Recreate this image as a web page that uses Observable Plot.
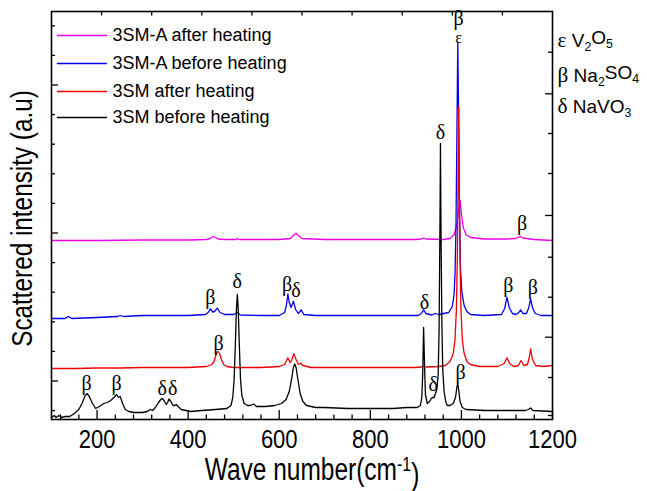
<!DOCTYPE html>
<html><head><meta charset="utf-8">
<script src="https://cdn.jsdelivr.net/npm/d3@7"></script>
<script src="https://cdn.jsdelivr.net/npm/@observablehq/plot@0.6"></script>
<style>
body{margin:0;background:#fff;}
#chart svg{background:#fff;}
</style></head><body><div id="chart"></div>
<script>
// ---- data (wavenumber cm^-1, scattered intensity a.u.) ----
const seriesNames = ["3SM-A after heating", "3SM-A before heating", "3SM after heating", "3SM before heating"];
const seriesColors = ["#ee00ee", "#0000ee", "#ee0000", "#000000"];

const smaAfter = [[100,179],[150,179],[200,179],[300,179.5],[400,179.5],[440,180],[448,181],[455,183],[460,182],[466,180.5],[480,180],[505,180],[508,181],[512,180],[530,180],[600,180],[625,181],[631,184],[637,186.3],[642,184],[650,181],[700,180],[800,180],[900,180],[912,180.5],[917,181.5],[922,180.5],[960,180],[975,181],[984,185],[989,193],[993,205],[997,219],[1000,206],[1004,192],[1010,185],[1020,182],[1050,180.5],[1100,180.5],[1120,181],[1126,182.5],[1130,183],[1135,181.5],[1160,180],[1200,179]];

const smaBefore = [[100,101],[130,101],[137,103],[145,101],[200,102],[245,103],[251,104],[258,103],[300,104],[400,104],[438,105],[444,107],[449,110.7],[454,107.5],[458,108],[464,111.3],[470,107],[480,105],[500,105],[508,107],[515,104.5],[560,104],[600,104],[612,107],[616,115],[619,125.7],[622,117],[626,112],[631,118.3],[636,110],[642,106],[648,109.7],[654,105],[680,104],[750,104],[850,104],[905,104],[912,106],[917,109.7],[922,106],[935,104.5],[943,106],[950,105],[972,107],[980,113],[984,125],[986,146],[988,190],[990,280],[992,377],[994,300],[996,200],[998,150],[1001,128],[1006,114],[1012,108],[1020,105],[1050,104],[1088,105],[1095,111],[1100,122.3],[1105,112],[1112,106],[1120,105],[1126,107],[1130,109.7],[1135,106],[1143,106],[1148,112],[1152,120.7],[1156,112],[1162,106],[1175,104],[1200,104]];

const smAfter = [[100,51],[150,51],[200,51.5],[250,51.5],[300,52],[350,52],[400,52],[440,53],[452,55],[457,58],[460,63],[463,67],[466,68],[469,66],[473,60],[478,55],[485,53],[500,52],[560,52],[600,53],[612,55],[619,61.7],[624,57],[628,60],[632,65.7],[637,60],[642,55],[647,56.3],[652,54],[670,52],[700,52],[800,52],[900,52],[912,52.5],[917,53.5],[922,52.5],[950,53],[965,54],[975,58],[982,66],[986,80],[989,110],[991,160],[993,250],[994,313],[995,250],[997,160],[999,110],[1002,80],[1006,66],[1012,58],[1020,55],[1040,53],[1080,53],[1094,56],[1100,61.7],[1106,56],[1115,53],[1125,54],[1131,59],[1137,54],[1145,55],[1149,62],[1152,70.7],[1156,60],[1163,54],[1180,53],[1200,54]];

const smBefore = [[100,2],[106,4],[110,2],[116,4],[122,2],[130,3],[140,3],[150,6],[160,10],[168,17],[174,24],[178,26],[183,23],[190,16],[197,11],[205,13],[215,16],[222,17],[230,19],[237,22],[243,25],[247,22],[251,23],[256,16],[262,10],[270,8],[280,7],[290,7],[300,7],[310,8],[317,10],[322,9],[328,12],[335,17],[340,20],[343,21],[347,19],[352,15],[355,17],[358,20.5],[362,18],[367,14],[371,14],[374,15],[378,13],[385,10],[395,9],[405,8],[430,9],[460,10],[485,11],[494,14],[498,22],[501,40],[504,80],[506,110],[508,125],[510,110],[512,80],[515,40],[518,24],[523,16],[530,14],[537,14],[544,15.5],[550,13],[570,13],[590,14],[605,16],[615,20],[622,28],[627,40],[631,52],[634,55.5],[637,52],[641,40],[646,26],[652,18],[660,14],[680,12],[700,12],[750,11],[800,11],[850,11],[880,12],[903,12],[910,14],[913,22],[915,45],[917,92],[919,55],[921,25],[925,16],[930,18],[934,21],[937,22],[940,22],[943,26],[946,30],[949,45],[951,90],[953,200],[954,276],[955,200],[957,100],[959,50],[962,28],[966,17],[969,14],[975,14],[982,16],[987,22],[990,32],[992,36],[994,30],[997,18],[1002,12],[1010,10],[1050,9],[1100,9],[1140,9],[1147,10],[1152,11.5],[1157,9],[1200,8]];

const allSeries = [smaAfter, smaBefore, smAfter, smBefore];

// peak assignments: [wavenumber, intensity, symbol]
const peakLabels = [[177,36,"β"],[243,36,"β"],[343,31,"δ"],[366,31,"δ"],[508,138,"δ"],[467,76,"β"],[449,122,"β"],[617,135,"β"],[637,129,"δ"],[919,117,"δ"],[938,35,"δ"],[998,47,"β"],[1103,134,"β"],[1157,132,"β"],[1133,196,"β"],[954,287,"δ"],[994,401,"β"]];
const smallPeakLabels = [[994,382,"ε"]];

const phaseLabels = ["ε V_2O_5", "β Na_2SO_4", "δ NaVO_3"];
const phaseY = [379, 344, 313];

// axes ticks
const xTickLabels = [200, 400, 600, 800, 1000, 1200];
const xMinorTicks = [120,160,240,280,320,360,440,480,520,560,640,680,720,760,840,880,920,960,1040,1080,1120,1160];
const xTopTicks = [210, 320, 430, 540, 650, 760, 870, 980, 1090];
const yLeftTicks = [8.9, 38.5, 68.1, 97.7, 127.3, 156.9, 186.5, 216.1, 245.7, 275.3, 304.9, 334.5, 364.1, 393.7];
const yLeftMajor = [38.5, 186.5, 334.5];
const yRightTicks = [4, 42, 82.3, 122.3, 162.3, 204, 246, 286, 325.7, 367.3];
const yRightMajor = [82.3, 204, 325.7];

const legendY = [384, 356, 328, 302];

// ---- chart ----
const SANS = "'Liberation Sans', Arial, sans-serif";
const SERIF = "'Liberation Serif', 'Times New Roman', serif";
const xPerPx = 1100 / 501;

const lineMarks = allSeries.map((s, i) =>
  Plot.line(s, {x: d => d[0], y: d => d[1], stroke: seriesColors[i], strokeWidth: 1.3, curve: "linear"})
);

const chart = Plot.plot({
  width: 647, height: 491,
  marginLeft: 51, marginRight: 95, marginTop: 11, marginBottom: 72,
  x: {domain: [100, 1200], axis: null},
  y: {domain: [0, 408], axis: null},
  style: {fontFamily: SANS, color: "#000", background: "#fff"},
  marks: [
    ...lineMarks,
    // bottom ticks (inward)
    Plot.ruleX(xTickLabels, {x: d => d, y1: 0, y2: 9, stroke: "#000", strokeWidth: 1.3}),
    Plot.ruleX(xMinorTicks, {x: d => d, y1: 0, y2: 4.5, stroke: "#000", strokeWidth: 1.3}),
    // top ticks
    Plot.ruleX(xTopTicks, {x: d => d, y1: 408, y2: 403.5, stroke: "#000", strokeWidth: 1.3}),
    // left ticks
    Plot.ruleY(yLeftTicks, {y: d => d, x1: 100, x2: d => 100 + (yLeftMajor.includes(d) ? 7 : 4) * xPerPx, stroke: "#000", strokeWidth: 1.3}),
    // right ticks
    Plot.ruleY(yRightTicks, {y: d => d, x1: 1200, x2: d => 1200 - (yRightMajor.includes(d) ? 7 : 4) * xPerPx, stroke: "#000", strokeWidth: 1.3}),
    Plot.frame({stroke: "#000", strokeWidth: 1.6}),
    Plot.axisX({ticks: xTickLabels, tickSize: 0, tickPadding: 10, tickFormat: d => String(d), fontSize: 22, fontFamily: SANS, label: null, className: "stretchA"}),
    // peak labels
    Plot.text(peakLabels, {x: d => d[0], y: d => d[1], text: d => d[2], fontFamily: SERIF, fontSize: 20, lineAnchor: "middle", fill: "#000"}),
    Plot.text(smallPeakLabels, {x: d => d[0], y: d => d[1], text: d => d[2], fontFamily: SERIF, fontSize: 16, lineAnchor: "middle", fill: "#000"}),
    // legend
    Plot.ruleY(seriesNames, {y: (d, i) => legendY[i], x1: 113, x2: 223, stroke: (d, i) => seriesColors[i], strokeWidth: 1.6}),
    Plot.text(seriesNames, {x: 234, y: (d, i) => legendY[i], text: d => d, textAnchor: "start", lineAnchor: "middle", fontSize: 18, fontFamily: SANS, fill: "#000"}),
    // phase key on the right
    Plot.text(phaseLabels, {x: 1200, y: (d, i) => phaseY[i], text: d => d, dx: 5, textAnchor: "start", lineAnchor: "middle", fontSize: 19, fontFamily: SANS, fill: "#000", className: "phase"}),
    // axis titles
    Plot.text(["Wave number(cm^{-1})"], {frameAnchor: "bottom", dx: 10, dy: 51, text: d => d, textAnchor: "middle", lineAnchor: "middle", fontSize: 24.5, fontFamily: SANS, fill: "#000", className: "xlab"}),
    Plot.text(["Scattered intensity (a.u)"], {frameAnchor: "left", dx: -29, dy: 3, rotate: -90, text: d => d, textAnchor: "middle", lineAnchor: "middle", fontSize: 24.3, fontFamily: SANS, fill: "#000", className: "ylab"})
  ]
});
document.getElementById("chart").appendChild(chart);

// rich text: Greek in serif, _x subscripts, ^{..} superscripts
function richText(el) {
  const t = d3.select(el);
  const s = t.text();
  t.text(null);
  const tokens = [];
  let i = 0;
  while (i < s.length) {
    const c = s[i];
    if (c === "_" || c === "^") {
      let body;
      if (s[i + 1] === "{") { const j = s.indexOf("}", i); body = s.slice(i + 2, j); i = j + 1; }
      else { body = s[i + 1]; i += 2; }
      tokens.push({type: c === "_" ? "sub" : "sup", text: body});
    } else if (/[\u0370-\u03ff]/.test(c)) {
      tokens.push({type: "greek", text: c}); i++;
    } else {
      let j = i;
      while (j < s.length && !/[_^\u0370-\u03ff]/.test(s[j])) j++;
      tokens.push({type: "normal", text: s.slice(i, j)}); i = j;
    }
  }
  let shift = 0;
  for (const tk of tokens) {
    const ts = t.append("tspan").text(tk.text);
    if (tk.type === "greek") { ts.attr("font-family", SERIF).attr("font-size", "1.12em"); }
    if (tk.type === "sub") { ts.attr("font-size", "0.65em").attr("dy", (0.32 - shift) + "em"); shift = 0.32; }
    else if (tk.type === "sup") { ts.attr("font-size", "0.65em").attr("dy", (-0.45 - shift) + "em"); shift = -0.45; }
    else if (shift !== 0) { ts.attr("dy", (-shift) + "em"); shift = 0; }
  }
}
d3.select(chart).selectAll("g.phase text, g.xlab text").each(function() { richText(this); });

// the reference's axis lettering is vertically elongated: stretch glyph height
function stretch(el, k) {
  const t = d3.select(el);
  const tr = t.attr("transform");
  if (tr) {
    t.attr("transform", tr + ` scale(1,${k})`);
  } else {
    const x = +t.attr("x") || 0, y = +t.attr("y") || 0;
    t.attr("x", null).attr("y", null).attr("transform", `translate(${x},${y}) scale(1,${k})`);
  }
}
d3.select(chart).selectAll("g.stretchA text").each(function() { stretch(this, 1.17); });
d3.select(chart).selectAll("g.xlab text, g.ylab text").each(function() { stretch(this, 1.25); });
</script></body></html>
